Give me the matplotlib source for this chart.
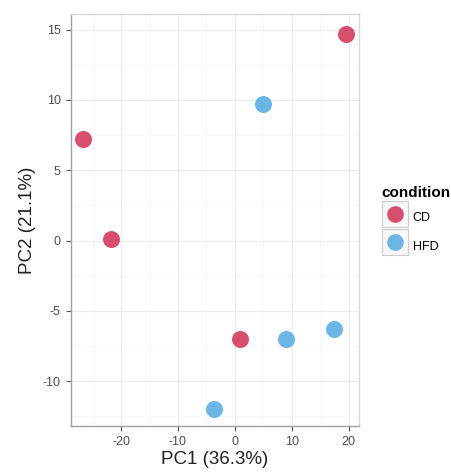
import numpy as np
import matplotlib.pyplot as plt
from matplotlib.lines import Line2D
from matplotlib.legend_handler import HandlerTuple

plt.rcParams["axes.unicode_minus"] = False
plt.rcParams["font.family"] = ["Liberation Sans", "DejaVu Sans"]

# PCA scores
cd_pc1 = [-26.7, -21.8, 19.5, 0.9]
cd_pc2 = [7.2, 0.1, 14.7, -7.0]
hfd_pc1 = [5.0, 9.0, 17.5, -3.7]
hfd_pc2 = [9.7, -7.0, -6.3, -12.0]

conditions = ["CD", "HFD"]
colors = {"CD": "#d6506e", "HFD": "#6cb6e6"}

xticks = [-20, -10, 0, 10, 20]
yticks = [-10, -5, 0, 5, 10, 15]

fig = plt.figure(figsize=(4.52, 4.74), dpi=100)
ax = fig.add_axes([0.156, 0.101, 0.639, 0.869])

ax.scatter(cd_pc1, cd_pc2, s=150, color=colors["CD"], zorder=3, linewidths=0)
ax.scatter(hfd_pc1, hfd_pc2, s=150, color=colors["HFD"], zorder=3, linewidths=0)

ax.set_xlim(-28.9, 21.9)
ax.set_ylim(-13.2, 16.1)
ax.set_xticks(xticks)
ax.set_yticks(yticks)
ax.set_xticks(np.arange(-25, 21, 10), minor=True)
ax.set_yticks(np.arange(-12.5, 16, 5), minor=True)

ax.grid(True, which="major", color="#ebebeb", linewidth=0.8, zorder=0)
ax.grid(True, which="minor", color="#f5f5f5", linewidth=0.5, zorder=0)
ax.set_axisbelow(True)

for side in ["top", "right"]:
    ax.spines[side].set_color("#d9d9d9")
for side in ["left", "bottom"]:
    ax.spines[side].set_color("#a0a0a0")
for sp in ax.spines.values():
    sp.set_linewidth(1.0)

ax.tick_params(which="major", length=3.5, width=0.8, color="#555555",
               labelsize=9, labelcolor="#4d4d4d", pad=3.5)
ax.tick_params(which="minor", length=0)

ax.set_xlabel("PC1 (36.3%)", fontsize=13.5, color="#222222", labelpad=2.5)
ax.set_ylabel("PC2 (21.1%)", fontsize=13.5, color="#222222", labelpad=5)

handles = []
for c in conditions:
    box = Line2D([], [], marker="s", markersize=18.7, markerfacecolor="#f7f7f7",
                 markeredgecolor="#cccccc", markeredgewidth=0.8, linestyle="none")
    dot = Line2D([], [], marker="o", markersize=12, markerfacecolor=colors[c],
                 markeredgewidth=0, linestyle="none")
    handles.append((box, dot))

leg = fig.legend(handles, conditions, handler_map={tuple: HandlerTuple(ndivide=1)},
                 title="condition", loc="upper left", bbox_to_anchor=(0.843, 0.608),
                 frameon=False, fontsize=9, title_fontsize=11, labelspacing=0.5,
                 handlelength=2.26, handleheight=2.4, handletextpad=0.27,
                 borderaxespad=0, borderpad=0)
leg.get_title().set_fontweight("bold")
leg._legend_box.align = "left"

fig.savefig("out.png", dpi=100)
